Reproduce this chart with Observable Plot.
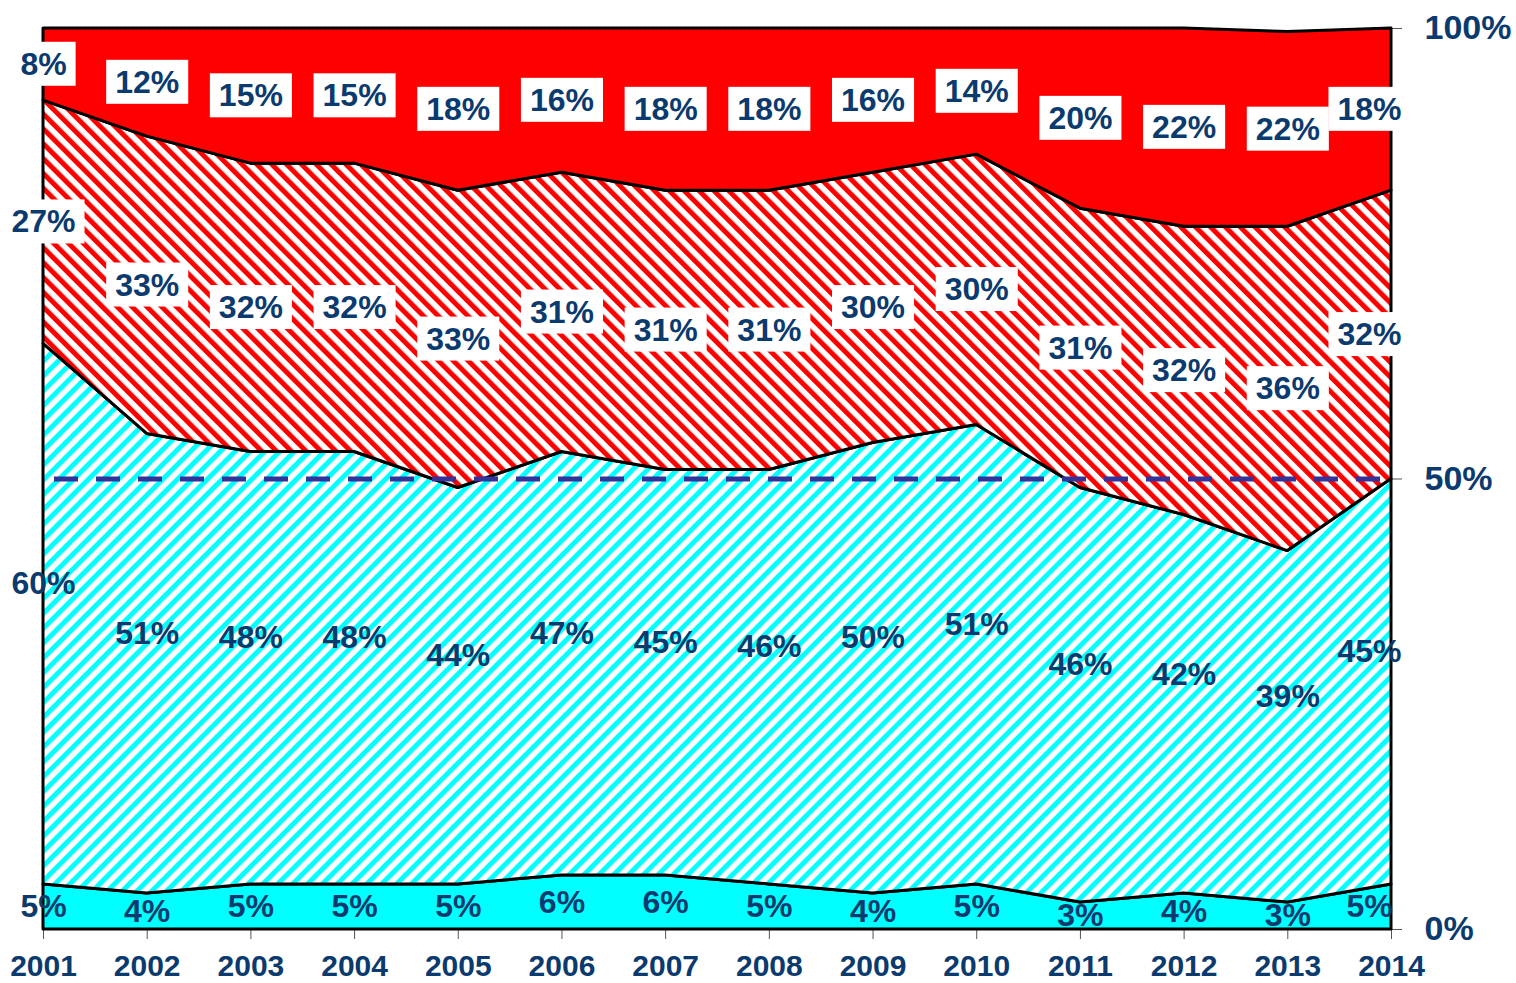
<!DOCTYPE html>
<html><head><meta charset="utf-8">
<script src="https://cdn.jsdelivr.net/npm/d3@7"></script>
<script src="https://cdn.jsdelivr.net/npm/@observablehq/plot@0.6"></script>
<style>
body{margin:0;background:#fff;}
#chart svg{display:block;}
#chart svg g[aria-label^="x-axis"] text{font-size:30px;font-weight:bold;fill:#0b3a6e;}
#chart svg g[aria-label^="y-axis"] text{font-size:34px;font-weight:bold;fill:#0b3a6e;}
#chart svg g[aria-label^="x-axis"] line,#chart svg g[aria-label^="x-axis"] path,
#chart svg g[aria-label^="y-axis"] line,#chart svg g[aria-label^="y-axis"] path{stroke:#555;}
</style></head><body><div id="chart"></div>
<script>
// ---- data ----
const years = [2001,2002,2003,2004,2005,2006,2007,2008,2009,2010,2011,2012,2013,2014];
const seriesNames = ["cyanSolid","cyanHatch","redHatch","redSolid"];
const cyanSolid = [5,4,5,5,5,6,6,5,4,5,3,4,3,5];
const cyanHatch = [60,51,48,48,44,47,45,46,50,51,46,42,39,45];
const redHatch  = [27,33,32,32,33,31,31,31,30,30,31,32,36,32];
const redSolid  = [8,12,15,15,18,16,18,18,16,14,20,22,21.6,18];
const yTicks = [0,50,100];
const refLine = [50];

// ---- build long table ----
const bySeries = {cyanSolid, cyanHatch, redHatch, redSolid};
const rows = [];
years.forEach((yr,i)=>{
  let base = 0;
  seriesNames.forEach(s=>{
    const v = bySeries[s][i];
    rows.push({year: yr, series: s, value: v, mid: base + v/2});
    base += v;
  });
});

const navy = "#0b3a6e";
const lastYear = years[years.length-1];

function labelMarks(series, opts = {}) {
  const inner = rows.filter(d => d.series === series && d.year !== lastYear);
  const last = rows.filter(d => d.series === series && d.year === lastYear);
  const common = {x: "year", y: "mid", text: d => Math.round(d.value) + "%",
    fill: navy, fontSize: 32, fontWeight: "bold", ...opts};
  return [
    Plot.text(inner, common),
    Plot.text(last, {...common, dx: (opts.dx || 0) - 22})
  ];
}

const svg = Plot.plot({
  width: 1516, height: 983,
  marginLeft: 43, marginRight: 125, marginTop: 28, marginBottom: 54,
  style: {fontFamily: "'Liberation Sans', Arial, sans-serif", background: "white", overflow: "visible", color: navy},
  x: {domain: [years[0], lastYear], ticks: years, tickFormat: "d", tickSize: 10, tickPadding: 15, label: null},
  y: {domain: [0, 100], ticks: yTicks, tickFormat: d => d + "%", axis: "right", tickSize: 10, tickPadding: 23, label: null},
  color: {domain: seriesNames, range: ["#00ffff", "url(#hatchCyan)", "url(#hatchRed)", "#ff0000"]},
  marks: [
    Plot.areaY(rows, {x: "year", y: "value", z: "series", fill: "series",
      stroke: "black", strokeWidth: 3, strokeLinejoin: "round"}),
    Plot.ruleY(refLine, {stroke: "#333399", strokeWidth: 5, strokeDasharray: "24,18", strokeDashoffset: 31}),
    ...labelMarks("cyanSolid"),
    ...labelMarks("cyanHatch", {dy: -30}),
    ...labelMarks("redHatch", {ariaDescription: "boxed"}),
    ...labelMarks("redSolid", {ariaDescription: "boxed"})
  ]
});

document.getElementById("chart").appendChild(svg);

// hatch patterns
const defs = `<defs>
<pattern id="hatchCyan" patternUnits="userSpaceOnUse" width="10.5" height="10.5" patternTransform="rotate(45)">
<rect width="10.5" height="10.5" fill="white"/><rect width="5" height="10.5" fill="#00ffff"/></pattern>
<pattern id="hatchRed" patternUnits="userSpaceOnUse" width="10.5" height="10.5" patternTransform="rotate(-45)">
<rect width="10.5" height="10.5" fill="white"/><rect width="5" height="10.5" fill="#ff0000"/></pattern>
</defs>`;
svg.insertAdjacentHTML("afterbegin", defs);

// white boxes behind boxed labels
const ns = "http://www.w3.org/2000/svg";
svg.querySelectorAll('g[aria-description="boxed"] text').forEach(t => {
  const b = t.getBBox();
  const padX = 9, padY = 4;
  const r = document.createElementNS(ns, "rect");
  r.setAttribute("x", b.x - padX);
  r.setAttribute("y", b.y - padY);
  r.setAttribute("width", b.width + 2*padX);
  r.setAttribute("height", b.height + 2*padY);
  r.setAttribute("fill", "white");
  r.setAttribute("stroke", "none");
  const tr = t.getAttribute("transform");
  if (tr) r.setAttribute("transform", tr);
  t.parentNode.insertBefore(r, t);
});
</script>
</body></html>
